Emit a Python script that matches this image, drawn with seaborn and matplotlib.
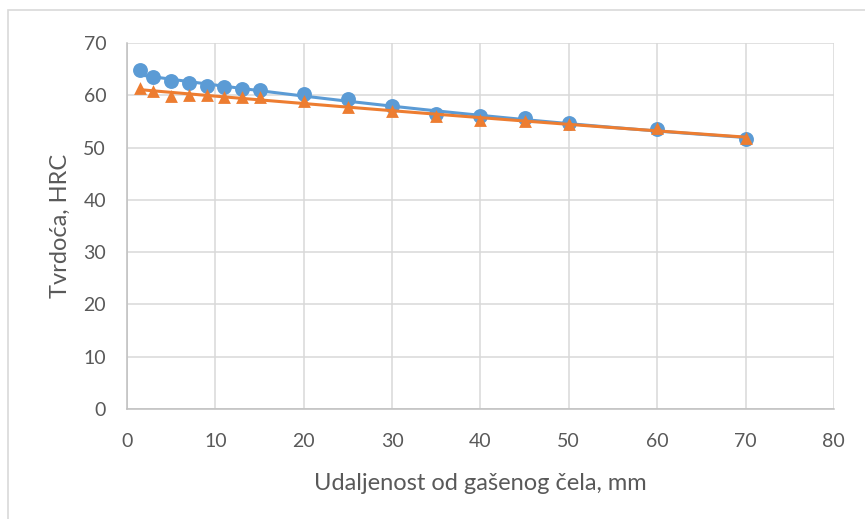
import numpy as np
import pandas as pd
import matplotlib
import matplotlib.pyplot as plt
import seaborn as sns

matplotlib.use("Agg")

# Jominy test: distance from quenched end vs hardness
distance = [1.5, 3, 5, 7, 9, 11, 13, 15, 20, 25, 30, 35, 40, 45, 50, 60, 70]
hrc_blue = [64.8, 63.5, 62.7, 62.3, 61.8, 61.6, 61.2, 61.0, 60.2, 59.3,
            57.9, 56.4, 56.0, 55.7, 54.7, 53.6, 51.6]
hrc_orange = [61.4, 60.8, 59.9, 60.1, 60.0, 59.7, 59.6, 59.6, 59.0, 57.7,
              57.0, 56.0, 55.3, 55.0, 54.6, 53.7, 51.8]

x_ticks = [0, 10, 20, 30, 40, 50, 60, 70, 80]
y_ticks = [0, 10, 20, 30, 40, 50, 60, 70]

BLUE = "#5B9BD5"
ORANGE = "#ED7D31"
TEXT = "#595959"

df = pd.DataFrame({"x": distance, "blue": hrc_blue, "orange": hrc_orange})

sns.set_style("white")
plt.rcParams["font.family"] = ["Lato", "DejaVu Sans"]

fig = plt.figure(figsize=(8.65, 5.19), dpi=100)
ax = fig.add_axes([0.1468, 0.212, 0.8172, 0.705])

# trendlines (2nd order polynomial, like Excel)
sns.regplot(data=df, x="x", y="blue", order=2, ci=None, scatter=False,
            truncate=True, line_kws={"color": BLUE, "lw": 2.2, "zorder": 2}, ax=ax)
sns.scatterplot(data=df, x="x", y="blue", marker="o", s=115, color=BLUE,
                edgecolor=BLUE, linewidth=0, ax=ax, zorder=3)
sns.regplot(data=df, x="x", y="orange", order=2, ci=None, scatter=False,
            truncate=True, line_kws={"color": ORANGE, "lw": 2.2, "zorder": 4}, ax=ax)
sns.scatterplot(data=df, x="x", y="orange", marker="^", s=85, color=ORANGE,
                edgecolor=ORANGE, linewidth=0, ax=ax, zorder=5)

ax.set_xlim(0, 80)
ax.set_ylim(0, 70)
ax.set_xticks(x_ticks)
ax.set_yticks(y_ticks)
ax.grid(True, color="#d9d9d9", lw=1.1)
ax.set_axisbelow(True)
for side in ["top", "right"]:
    ax.spines[side].set_visible(False)
for side in ["left", "bottom"]:
    ax.spines[side].set_color("#bfbfbf")
    ax.spines[side].set_linewidth(1.1)
ax.tick_params(axis="both", length=0, labelsize=14, colors=TEXT)
ax.tick_params(axis="x", pad=17)
ax.tick_params(axis="y", pad=15)

ax.set_xlabel("Udaljenost od gašenog čela, mm", fontsize=17, color=TEXT, labelpad=17)
ax.set_ylabel("Tvrdoća, HRC", fontsize=17, color=TEXT, labelpad=9)

# outer chart border
fig.patches.append(plt.Rectangle((0.009, -0.02), 1.2, 1.0, transform=fig.transFigure,
                                 fill=False, edgecolor="#d9d9d9", lw=1.2))

fig.savefig("out.png", dpi=100)
